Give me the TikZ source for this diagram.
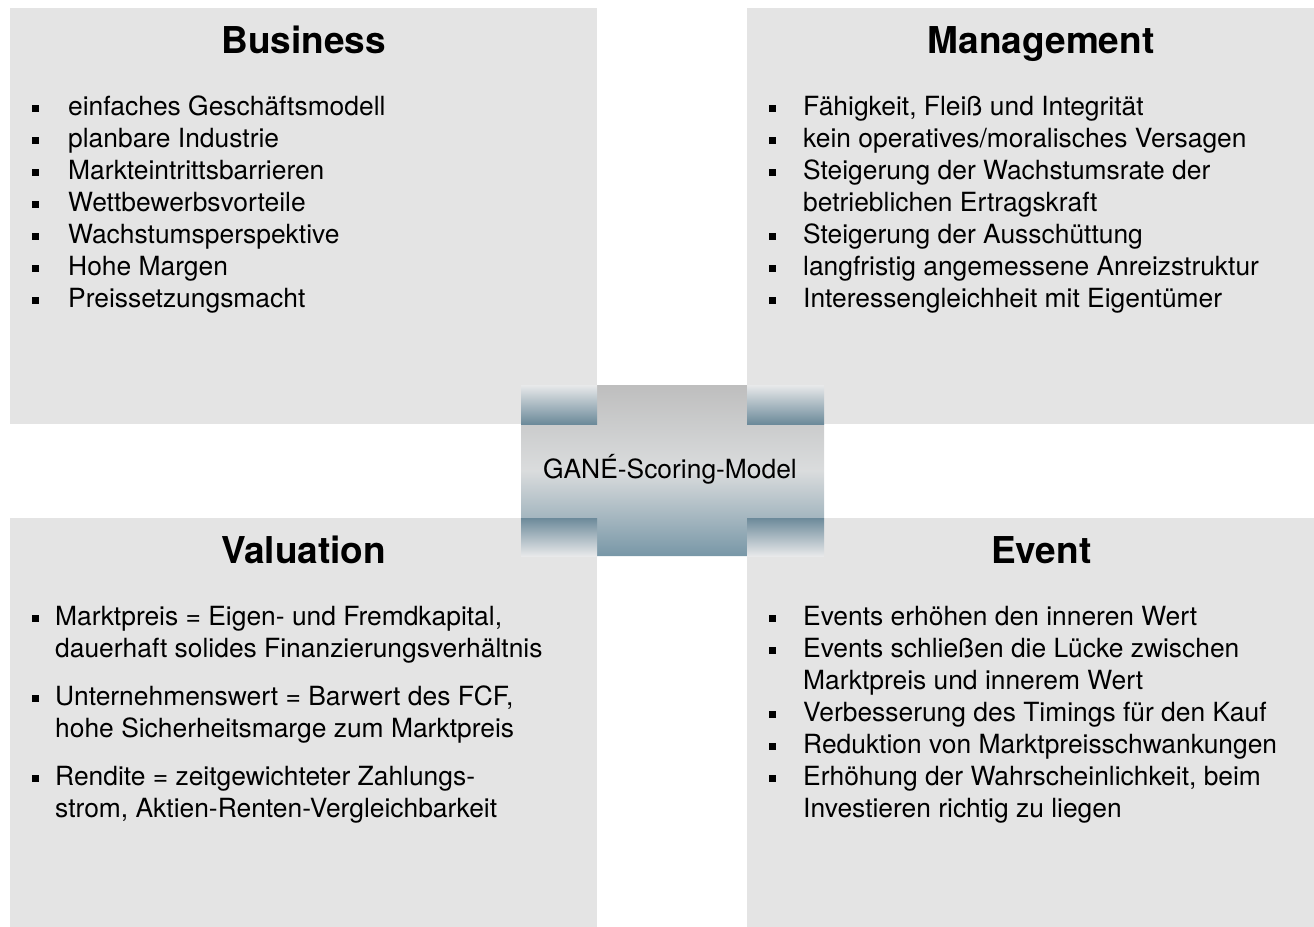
\documentclass[tikz,border=0pt]{standalone}
\usepackage{fontspec}
\setmainfont{TeX Gyre Heros}
\usetikzlibrary{positioning}

\definecolor{panelgray}{HTML}{E4E4E4}
\definecolor{crosstop}{HTML}{BEBEBE}
\definecolor{crossmid}{HTML}{DADCDD}
\definecolor{crossbot}{HTML}{7897A7}
\definecolor{tablight}{HTML}{E8E9EA}
\definecolor{steel}{HTML}{6C8A9A}

% square bullets with hanging indent
\newlength\listindent
\newcommand\bulletbox{\rule[3.5pt]{6.5pt}{6.5pt}}
\newcommand\entry[1]{\noindent\hangindent=\listindent\hangafter=1
	\makebox[\listindent][l]{\bulletbox}#1\par}

\tikzset{
	quadrant/.style = {rectangle, fill=panelgray, inner sep=0pt, anchor=north west,
		minimum width=588pt, minimum height=416pt},% the four panels
	heading/.style = {anchor=base, inner sep=0pt,
		font=\fontsize{37pt}{44pt}\bfseries\selectfont},
	itemlist/.style = {anchor=base west, inner sep=0pt,
		font=\fontsize{26.4pt}{32pt}\selectfont},
	modeltext/.style = {anchor=base, inner sep=0pt,
		font=\fontsize{26.4pt}{32pt}\selectfont}
}

\begin{document}
\begin{tikzpicture}[x=1pt,y=-1pt]
	\useasboundingbox (0,0) rectangle (1314,926);
	\clip (0,0) rectangle (1314,926);

	% panels
	\node[quadrant, minimum width=587pt] (business) at (10,8) {};
	\node[quadrant] (management) at (747,8) {};
	\node[quadrant, minimum width=587pt] (valuation) at (10,518) {};
	\node[quadrant] (event) at (747,518) {};

	\node[heading] (businessT) at ([yshift=-45pt]business.north) {Business};
	\node[heading] (managementT) at ([yshift=-45pt]management.north) {Management};
	\node[heading] (valuationT) at ([yshift=-45pt]valuation.north) {Valuation};
	\node[heading] (eventT) at ([yshift=-45pt]event.north) {Event};

	\node[itemlist] (businessL) at ([xshift=22pt,yshift=-107pt]business.north west)
		{\parbox[t]{560pt}{\setlength\listindent{36pt}\raggedright
			\entry{einfaches Geschäftsmodell}
			\entry{planbare Industrie}
			\entry{Markteintrittsbarrieren}
			\entry{Wettbewerbsvorteile}
			\entry{Wachstumsperspektive}
			\entry{Hohe Margen}
			\entry{Preissetzungsmacht}}};

	\node[itemlist] (managementL) at ([xshift=22pt,yshift=-107pt]management.north west)
		{\parbox[t]{560pt}{\setlength\listindent{34pt}\raggedright
			\entry{Fähigkeit, Fleiß und Integrität}
			\entry{kein operatives/moralisches Versagen}
			\entry{Steigerung der Wachstumsrate der\newline betrieblichen Ertragskraft}
			\entry{Steigerung der Ausschüttung}
			\entry{langfristig angemessene Anreizstruktur}
			\entry{Interessengleichheit mit Eigentümer}}};

	\node[itemlist] (valuationL) at ([xshift=22pt,yshift=-107pt]valuation.north west)
		{\parbox[t]{560pt}{\setlength\listindent{23pt}\setlength\parskip{16pt}\raggedright
			\entry{Marktpreis = Eigen- und Fremdkapital,\newline dauerhaft solides Finanzierungsverhältnis}
			\entry{Unternehmenswert = Barwert des FCF,\newline hohe Sicherheitsmarge zum Marktpreis}
			\entry{Rendite = zeitgewichteter Zahlungs-\newline strom, Aktien-Renten-Vergleichbarkeit}}};

	\node[itemlist] (eventL) at ([xshift=22pt,yshift=-107pt]event.north west)
		{\parbox[t]{560pt}{\setlength\listindent{34pt}\raggedright
			\entry{Events erhöhen den inneren Wert}
			\entry{Events schließen die Lücke zwischen\newline Marktpreis und innerem Wert}
			\entry{Verbesserung des Timings für den Kauf}
			\entry{Reduktion von Marktpreisschwankungen}
			\entry{Erhöhung der Wahrscheinlichkeit, beim\newline Investieren richtig zu liegen}}};

	% centre cross
	\shade[top color=crosstop, bottom color=crossbot, middle color=crossmid]
		(597,385) -- (747,385) -- (747,424) -- (824,424) -- (824,518) -- (747,518)
		-- (747,556) -- (597,556) -- (597,518) -- (521,518) -- (521,424) -- (597,424) -- cycle;
	\foreach \x/\w in {521/76,747/77} {
		\shade[top color=tablight, bottom color=steel] (\x,385) rectangle ++(\w,39);
		\shade[top color=steel, bottom color=tablight] (\x,518) rectangle ++(\w,38);
	}
	\node[modeltext] (model) at (670,478) {GANÉ-Scoring-Model};
\end{tikzpicture}
\end{document}
